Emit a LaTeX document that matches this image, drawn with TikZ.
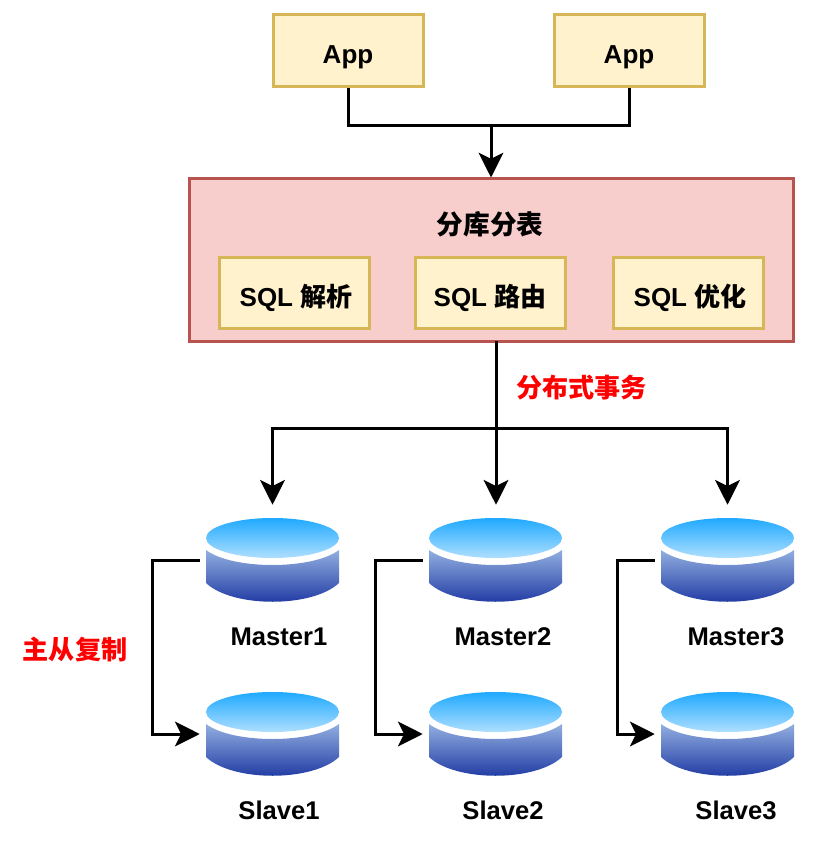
\documentclass[tikz,border=0pt]{standalone}
\usepackage{fontspec}
\setmainfont{Liberation Sans}
\newfontfamily\cjk{Noto Sans CJK SC}
\usetikzlibrary{arrows.meta}
\definecolor{appfill}{HTML}{FFF2CC}
\definecolor{appline}{HTML}{D6B656}
\definecolor{boxfill}{HTML}{F8CECC}
\definecolor{boxline}{HTML}{B85450}
\definecolor{topA}{HTML}{1FA9FF}
\definecolor{topB}{HTML}{AEDFFF}
\definecolor{bodyA}{HTML}{92AFE0}
\definecolor{bodyB}{HTML}{16309E}
\tikzset{
  yellowbox/.style={draw=appline,fill=appfill,line width=2.25pt,inner sep=0pt,font=\fontsize{19.5}{23}\selectfont\bfseries},
  appbox/.style={yellowbox,minimum width=112.5pt,minimum height=54pt,text height=23pt,text depth=4pt},
  sqlbox/.style={yellowbox,minimum width=112.5pt,minimum height=52.5pt,text height=24pt,text depth=4pt},
  bigbox/.style={draw=boxline,fill=boxfill,line width=2.25pt,inner sep=0pt},
  label/.style={inner sep=0pt,font=\fontsize{19.2}{23}\selectfont\bfseries},
  redlabel/.style={inner sep=0pt,text=red,font=\fontsize{19.6}{23}\selectfont\bfseries\cjk},
  dbnode/.style={minimum width=108.75pt,minimum height=63pt,inner sep=0pt},
  wire/.style={line width=2.25pt,black},
  tip/.style={wire,-{Stealth[length=18.5pt,width=18.5pt,inset=4.5pt]}},
  dbtop/.style={top color=topA,bottom color=topB},
  dbbody/.style={top color=bodyA,bottom color=bodyB},
}
\newcommand{\dbcyl}[3]{%
  \begin{scope}[shift={(#2,#3)}]
    \shade[dbbody] (-66.5,-10) .. controls (-40,10) and (40,10) .. (66.5,-10)
       -- (66.5,23) .. controls (40,48) and (-40,48) .. (-66.5,23) -- cycle;
    \shade[dbtop] (0,-22) ellipse [x radius=66.5,y radius=20];
  \end{scope}
  \node[dbnode] (#1) at (#2,#3) {};
}
\begin{document}
\begin{tikzpicture}[x=0.75pt,y=-0.75pt]
\useasboundingbox[fill=white] (0,0) rectangle (838,841);

\node[appbox] (app1) at (348,51) {App};
\node[appbox] (app2) at (629,51) {App};

\node[bigbox,minimum width=453pt,minimum height=121.5pt] (shard) at (491,260) {};
\node[label,font=\fontsize{20}{23}\selectfont\bfseries\cjk] (shardtitle) at (490,224) {分库分表};
\node[sqlbox] (parse) at (294,293) {\hspace{3pt}SQL {\cjk 解析}};
\node[sqlbox] (route) at (490,293) {SQL {\cjk 路由}};
\node[sqlbox] (opt) at (688,293) {\hspace{3pt}SQL {\cjk 优化}};

\dbcyl{m1}{272.5}{560}
\dbcyl{m2}{495.5}{560}
\dbcyl{m3}{727.5}{560}
\dbcyl{s1}{272.5}{734}
\dbcyl{s2}{495.5}{734}
\dbcyl{s3}{727.5}{734}

\node[label] (lm1) at (279,637) {Master1};
\node[label] (lm2) at (503,637) {Master2};
\node[label] (lm3) at (736,637) {Master3};
\node[label] (ls1) at (279,810) {Slave1};
\node[label] (ls2) at (503,810) {Slave2};
\node[label] (ls3) at (736,810) {Slave3};

\node[redlabel] (dist) at (581.5,388) {分布式事务};
\node[redlabel] (repl) at (75,649) {主从复制};

% App to shard
\coordinate (join) at (491,126);
\draw[wire] (app1.south) |- (join);
\draw[wire] (app2.south) |- (join);
\draw[tip] (join) -- (join |- shard.north);

% shard to masters
\coordinate (bus) at (496,428);
\coordinate (shardout) at (496,341);
\draw[wire] (shardout) -- (bus);
\draw[tip,shorten >=9.75pt] (bus) -| (m1.north);
\draw[tip,shorten >=9.75pt] (bus) -- (bus |- m2.north);
\draw[tip,shorten >=9.75pt] (bus) -| (m3.north);

% replication
\draw[tip] (m1.west) -- (152,560) -- (152,734) -- (s1.west);
\draw[tip] (m2.west) -- (375,560) -- (375,734) -- (s2.west);
\draw[tip] (m3.west) -- (617,560) -- (617,734) -- (s3.west);
\end{tikzpicture}
\end{document}
